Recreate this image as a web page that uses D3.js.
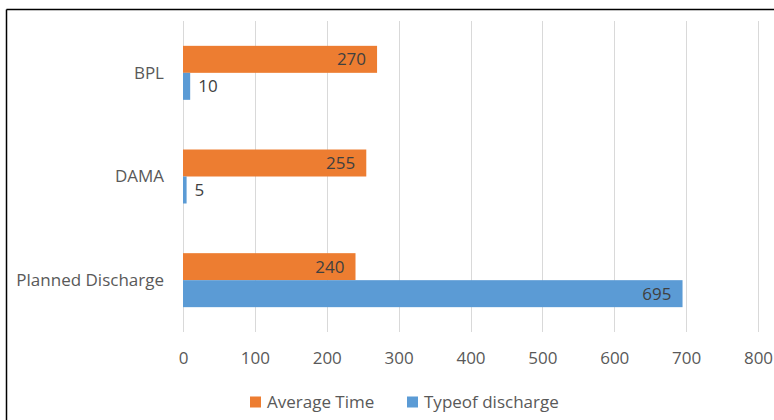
<!DOCTYPE html>
<html>
<head>
<meta charset="utf-8">
<script src="https://cdn.jsdelivr.net/npm/d3@7"></script>
<style>
  html, body { margin: 0; padding: 0; background: #fff; }
  svg { display: block; font-family: "Open Sans", "Noto Sans", sans-serif; }
</style>
</head>
<body>
<svg id="chart" width="774" height="420"></svg>
<script>
// Categories, top to bottom
const categories = ["BPL", "DAMA", "Planned Discharge"];
// Series values per category
const averageTime = [270, 255, 240];
const typeOfDischarge = [10, 5, 695];
const seriesNames = ["Average Time", "Typeof discharge"];
const seriesColors = ["#ED7D31", "#5B9BD5"];
const xTicks = [0, 100, 200, 300, 400, 500, 600, 700, 800];

const FONT = 17;
const svg = d3.select("#chart");
const W = 774, H = 420;
const plot = { left: 183, right: 758, top: 21, bottom: 332 };

// Chart frame (top and left edges visible)
svg.append("line").attr("x1", 6.5).attr("x2", W).attr("y1", 9.5).attr("y2", 9.5)
  .attr("stroke", "#000").attr("stroke-width", 1.5);
svg.append("line").attr("x1", 6.5).attr("x2", 6.5).attr("y1", 9.5).attr("y2", H)
  .attr("stroke", "#000").attr("stroke-width", 1.5);

const x = d3.scaleLinear().domain([0, 800]).range([plot.left, plot.right]);
const y = d3.scaleBand().domain(categories).range([plot.top, plot.bottom]);
const inner = d3.scaleBand().domain(seriesNames).range([0, y.bandwidth()]).paddingOuter(0.92);

// Vertical gridlines
svg.append("g").selectAll("line").data(xTicks).join("line")
  .attr("x1", d => Math.round(x(d)) + 0.5).attr("x2", d => Math.round(x(d)) + 0.5)
  .attr("y1", plot.top).attr("y2", plot.bottom)
  .attr("stroke", "#d9d9d9").attr("stroke-width", 1);

// X axis tick labels
const xAxis = d3.axisBottom(x).tickValues(xTicks).tickSize(0).tickPadding(0);
const gx = svg.append("g").attr("transform", `translate(0,${plot.bottom + 32})`).call(xAxis);
gx.select(".domain").remove();
gx.selectAll("text").attr("fill", "#595959").attr("font-size", FONT)
  .attr("font-family", "\"Open Sans\", sans-serif").attr("dy", 0);

// Category labels
const yAxis = d3.axisLeft(y).tickSize(0).tickPadding(0);
const gy = svg.append("g").attr("transform", `translate(${plot.left - 19},0)`).call(yAxis);
gy.select(".domain").remove();
gy.selectAll("text").attr("fill", "#595959").attr("font-size", FONT)
  .attr("font-family", "\"Open Sans\", sans-serif").attr("dy", "0.35em");

// Bars
const rows = categories.map((c, i) => ({ cat: c, vals: [averageTime[i], typeOfDischarge[i]] }));
const groups = svg.append("g").selectAll("g").data(rows).join("g")
  .attr("transform", d => `translate(0,${y(d.cat)})`);

groups.selectAll("rect").data(d => d.vals.map((v, k) => ({ v, k }))).join("rect")
  .attr("x", x(0))
  .attr("y", d => inner(seriesNames[d.k]))
  .attr("width", d => x(d.v) - x(0))
  .attr("height", inner.bandwidth())
  .attr("fill", d => seriesColors[d.k]);

// Value labels: inside end for wide bars, outside end for narrow ones
groups.selectAll("text.val").data(d => d.vals.map((v, k) => ({ v, k }))).join("text")
  .attr("class", "val")
  .attr("y", d => inner(seriesNames[d.k]) + inner.bandwidth() / 2)
  .attr("dy", "0.35em")
  .attr("font-size", FONT)
  .attr("fill", "#404040")
  .attr("x", d => (x(d.v) - x(0)) > 40 ? x(d.v) - 11 : x(d.v) + 8)
  .attr("text-anchor", d => (x(d.v) - x(0)) > 40 ? "end" : "start")
  .text(d => d.v);

// Legend
const legend = svg.append("g").attr("transform", "translate(0,402)");
const legendX = [250, 407];
seriesNames.forEach((name, k) => {
  legend.append("rect").attr("x", legendX[k]).attr("y", -5.5).attr("width", 11).attr("height", 11)
    .attr("fill", seriesColors[k]);
  legend.append("text").attr("x", legendX[k] + 17).attr("y", 0).attr("dy", "0.35em")
    .attr("font-size", FONT).attr("fill", "#595959").text(name);
});
</script>
</body>
</html>
